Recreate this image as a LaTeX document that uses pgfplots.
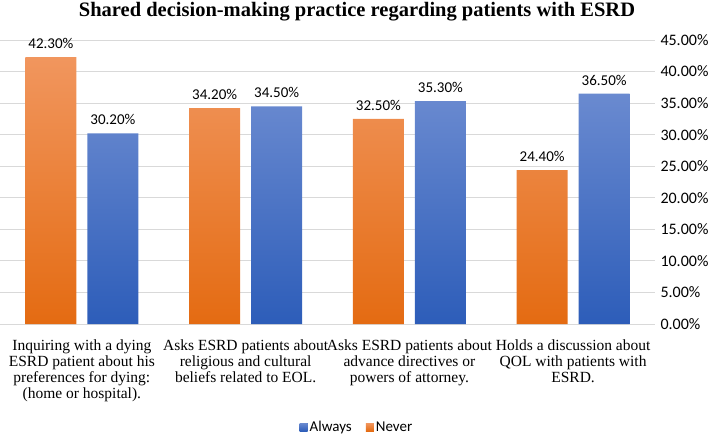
\documentclass[border=0pt]{standalone}
\usepackage{pgfplots}
\pgfplotsset{compat=1.18}
\usepackage{fontspec}
\setmainfont{Liberation Serif}
\newfontfamily\calfont{Carlito}

\definecolor{gridgray}{RGB}{217,217,217}
\definecolor{alwaysTop}{RGB}{106,138,208}
\definecolor{alwaysBot}{RGB}{45,93,185}
\definecolor{alwaysLeg}{RGB}{68,114,196}
\definecolor{neverTop}{RGB}{241,150,94}
\definecolor{neverBot}{RGB}{228,107,18}
\definecolor{neverLeg}{RGB}{237,125,49}

\begin{document}
\begin{tikzpicture}
\begin{axis}[
    scale only axis,
    width=655bp, height=284bp,
    xmin=-0.5, xmax=3.5,
    ymin=0, ymax=45,
    axis y line*=right,
    axis x line*=bottom,
    y axis line style={draw=none},
    x axis line style={gridgray, line width=0.8bp},
    ytick={0,5,...,45},
    ymajorgrids,
    grid style={gridgray, line width=0.8bp},
    major tick length=0pt,
    yticklabel={\pgfmathprintnumber[fixed,fixed zerofill,precision=2]{\tick}\%},
    yticklabel style={font=\calfont\fontsize{16bp}{18bp}\selectfont, xshift=2bp,
        /pgf/number format/assume math mode=true},
    xtick={0,1,2,3},
    xticklabels={
        {Inquiring with a dying\\ESRD patient about his\\preferences for dying:\\(home or hospital).},
        {Asks ESRD patients about\\religious and cultural\\beliefs related to EOL.},
        {Asks ESRD patients about\\advance directives or\\powers of attorney.},
        {Holds a discussion about\\QOL with patients with\\ESRD.}},
    xticklabel style={align=center, font=\fontsize{15.5bp}{16bp}\selectfont, yshift=-12bp},
    ybar,
    bar width=51bp,
    nodes near coords={\pgfmathprintnumber[fixed,fixed zerofill,precision=2]{\pgfplotspointmeta}\%},
    every node near coord/.append style={font=\calfont\fontsize{15bp}{18bp}\selectfont, black, yshift=5bp,
        /pgf/number format/assume math mode=true},
    legend style={at={(0.545,-0.363)}, anchor=center, draw=none, legend columns=2,
        font=\calfont\fontsize{15bp}{18bp}\selectfont,
        /tikz/every even column/.append style={column sep=12bp}},
]
\addplot[draw=none, top color=alwaysTop, bottom color=alwaysBot, bar shift=31bp,
    legend image code/.code={\fill[alwaysLeg] (0bp,-4bp) rectangle (8bp,4bp);}]
    coordinates {(0,30.2) (1,34.5) (2,35.3) (3,36.5)};
\addlegendentry{Always}
\addplot[draw=none, top color=neverTop, bottom color=neverBot, bar shift=-31bp,
    legend image code/.code={\fill[neverLeg] (0bp,-4bp) rectangle (8bp,4bp);}]
    coordinates {(0,42.3) (1,34.2) (2,32.5) (3,24.4)};
\addlegendentry{Never}
\end{axis}
\node[font=\bfseries\fontsize{20.5bp}{22bp}\selectfont] at (357bp,312bp) {Shared decision-making practice regarding patients with ESRD};
\pgfresetboundingbox
\useasboundingbox (0,-112bp) rectangle (714bp,324bp);
\end{tikzpicture}
\end{document}
